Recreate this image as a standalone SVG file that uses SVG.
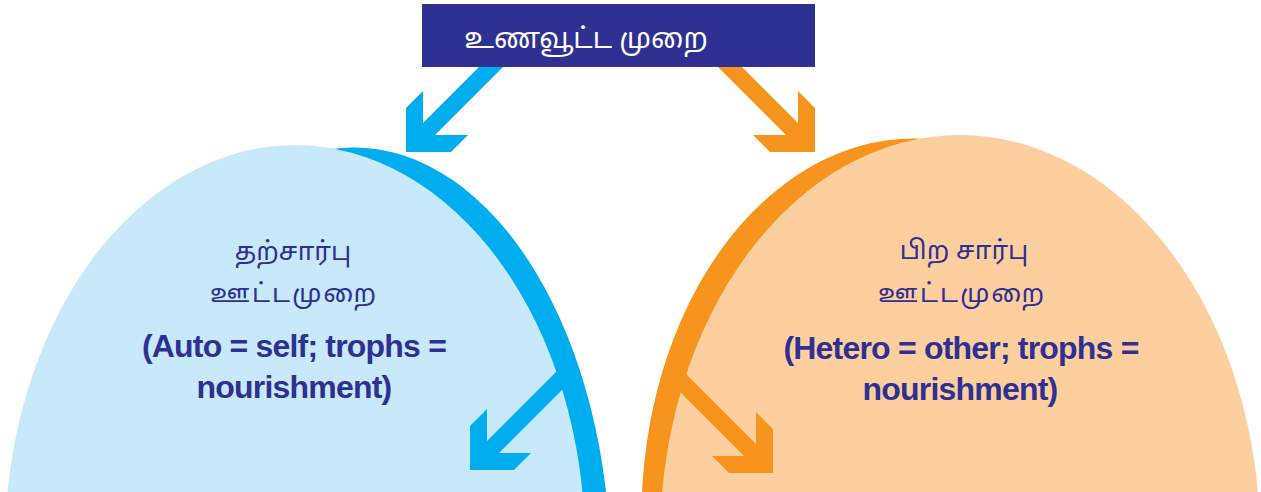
<svg xmlns="http://www.w3.org/2000/svg" width="1261" height="492" viewBox="0 0 1261 492">
<style>
.ta{font-family:"Noto Sans Tamil","Lohit Tamil","Latha","Noto Sans",sans-serif;fill:#2E3192;text-anchor:middle}
.en{font-family:"Liberation Sans",Arial,sans-serif;font-weight:bold;fill:#2E3192;text-anchor:middle;font-size:32px;letter-spacing:-0.8px}
.blue{fill:#00AEEF}
.orange{fill:#F7941D}
</style>
<rect width="1261" height="492" fill="#FFFFFF"/>
<g id="autotroph">
<ellipse class="blue" cx="353.7" cy="570.7" rx="256.8" ry="423.3"/>
<ellipse cx="295" cy="545" rx="290" ry="400" fill="#C7E9F9"/>
<text class="ta" x="293" y="260" font-size="26">தற்சார்பு</text>
<text class="ta" x="293" y="302" font-size="26" textLength="166" lengthAdjust="spacing">ஊட்டமுறை</text>
<text class="en" x="294" y="357">(Auto = self; trophs =</text>
<text class="en" x="294" y="398">nourishment)</text>
</g>
<g id="heterotroph">
<ellipse class="orange" cx="914" cy="516.7" rx="272.5" ry="378.2"/>
<ellipse cx="960" cy="540" rx="300" ry="405" fill="#FDCF9E"/>
<text class="ta" x="964" y="259" font-size="26">பிற சார்பு</text>
<text class="ta" x="961" y="302" font-size="26" textLength="166" lengthAdjust="spacing">ஊட்டமுறை</text>
<text class="en" x="961" y="359">(Hetero = other; trophs =</text>
<text class="en" x="960" y="400">nourishment)</text>
</g>
<g id="connectors">
<polygon class="blue" points="406,152 406,108 423,91 423,123 486,60 510,60 435,135 468,135 451,152"/>
<polygon class="orange" points="815,152 815,108 798,91 798,123 735,60 711,60 786,135 753,135 770,152"/>
<polygon class="blue" points="470,470 470,426 487,409 487,441 565,363 577,375 499,453 531,453 514,470"/>
<polygon class="orange" points="773,473 773,429 756,412 756,444 675,363 663,375 744,456 712,456 729,473"/>
</g>
<g id="title">
<rect x="422" y="4" width="393" height="63" fill="#2E3192"/>
<text class="ta" x="586" y="48" font-size="28" style="fill:#FFFFFF">உணவூட்ட முறை</text>
</g>
</svg>
